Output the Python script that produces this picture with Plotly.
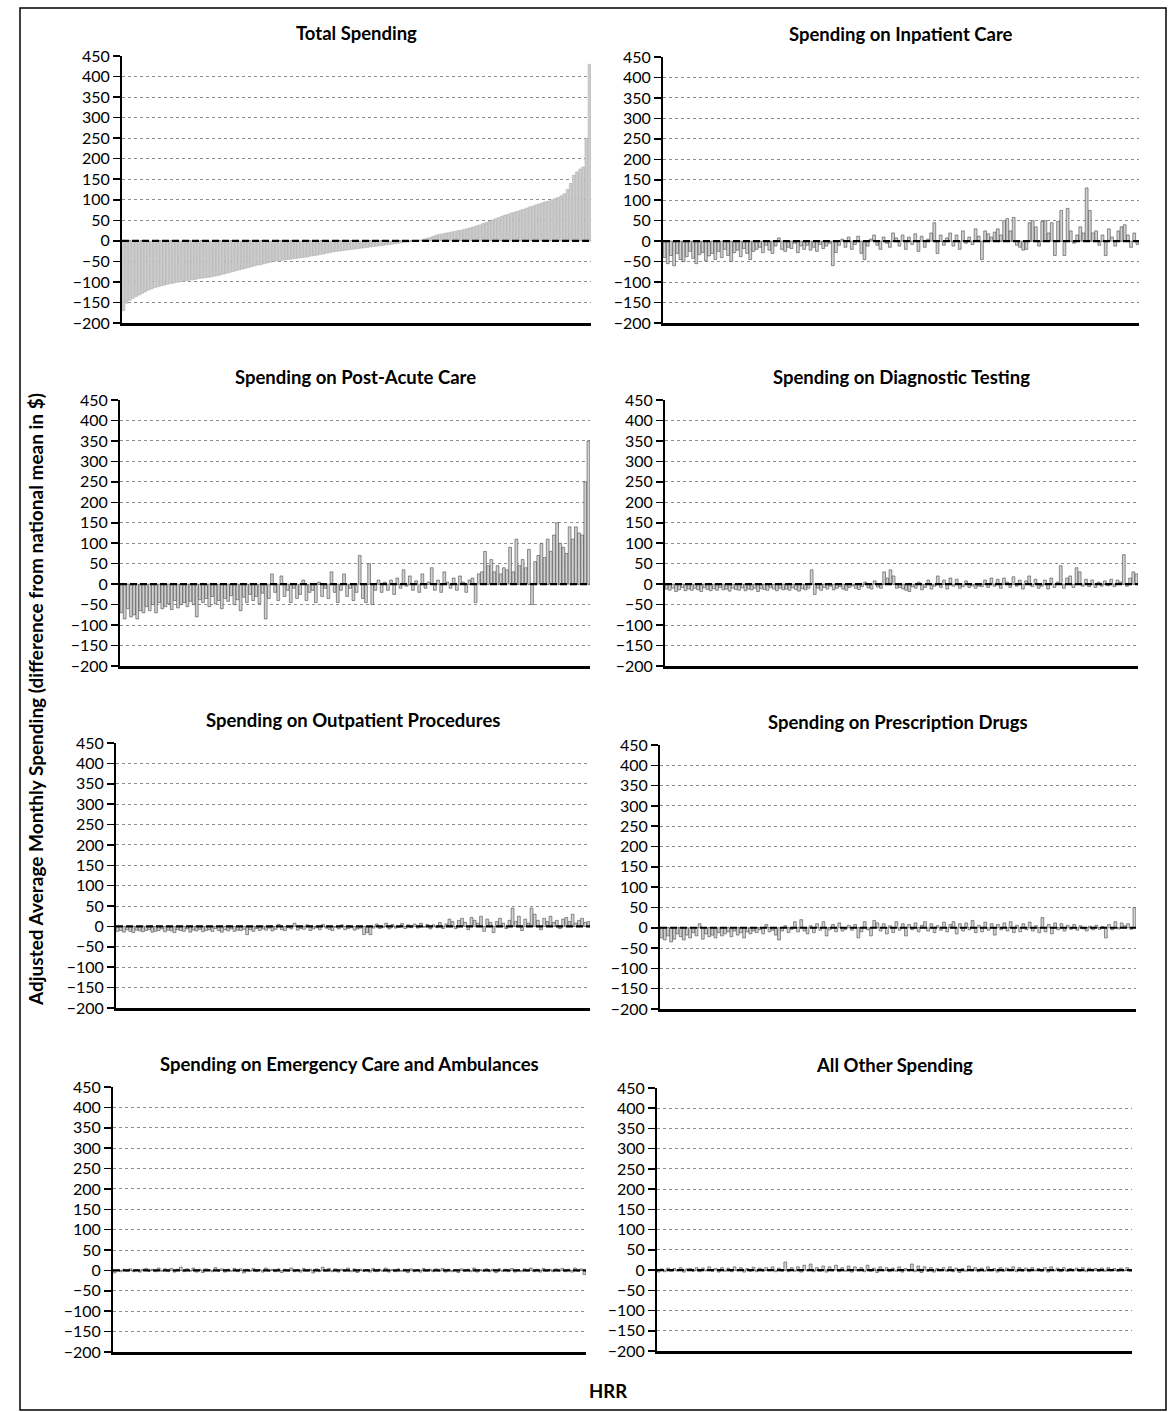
import plotly.graph_objects as go

W, H = 1168, 1412

titles = [
    "Total Spending",
    "Spending on Inpatient Care",
    "Spending on Post-Acute Care",
    "Spending on Diagnostic Testing",
    "Spending on Outpatient Procedures",
    "Spending on Prescription Drugs",
    "Spending on Emergency Care and Ambulances",
    "All Other Spending",
]

y_tick_vals = [-200, -150, -100, -50, 0, 50, 100, 150, 200, 250, 300, 350, 400, 450]

total = [
    -170, -152, -145, -140, -136, -132, -128, -124, -120, -117, -114, -112, -110, -108, -106, -104,
    -103, -101, -100, -99, -97, -96, -95,
    -94, -92, -91, -90, -89, -88, -86, -85,
    -83, -81, -79, -77, -75, -73, -71,
    -69, -67, -65, -63, -61, -59, -58, -56, -54, -52, -50,
    -49, -48, -47, -46, -45, -44, -43, -42, -41, -40, -39, -37,
    -36, -35, -33, -32, -30, -29, -27,
    -26, -25, -24, -23, -22, -21, -20, -19,
    -18, -17, -16, -15, -14, -13, -12,
    -11, -10, -9, -8, -7, -6, -5,
    -4, -3, -2, -1,
    1, 2, 4,
    6, 8, 11, 14,
    16, 17, 19, 20, 22, 23, 25, 26, 28, 30,
    32, 34, 37, 39, 42, 45,
    48, 51, 54, 57, 60,
    63, 65, 68, 70, 72, 75,
    77, 80, 83, 85, 88,
    90, 93, 95, 97, 100,
    103, 106, 110, 115,
    125, 140, 160, 168, 175, 180, 250, 430,
]

inpatient = [
    -40, -55, -35, -60, -30, -45, -50, -38, -25, -42, -55, -33, -28, -48, -36,
    -30, -45, -25, -40, -20, -35, -50, -28, -22, -38, -18, -30, -45, -25, -20,
    -15, -28, -10, -22, -30, -12, 8, -20, -25, -15, -18, -5, -28, -12, -20,
    -10, -22, -15, -25, -8, -18, -12, -5, -60, -28, -10, 5, -15, 10, -20,
    -8, 12, -30, -45, -12, 5, 15, -10, -20, 10, -5, -15, 20, 8, -12,
    15, -20, 10, -8, 18, -25, 12, -15, 5, 20, 45, -30, 15, -10, 8,
    20, -12, 15, -20, 25, -5, 10, -8, 30, 12, -45, 25, 18, 10, 22,
    30, 15, 50, 55, 25, 58, -10, -15, -22, -20, 45, 50, 35, -12, 48,
    50, 20, 45, -35, 48, 75, -35, 80, 25, -5, 15, 35, 20, 130, 75,
    20, 25, -10, 15, -35, 30, 10, -12, 25, 35, 40, 15, -15, 20, -8,
]

post_acute = [
    -70, -85, -60, -80, -75, -85, -65, -70,
    -55, -65, -50, -70, -45, -60, -55, -48, -62, -40, -58, -50, -45, -55, -42, -50, -80, -38,
    -45, -35, -55, -30, -48, -40, -60, -35, -42, -28, -50, -38, -65, -32, -45, -25, -40, -30, -48, -22, -85, -35,
    25, -20, -40, 20, -30, -15, -45, -10, -35, -25, 10, -40, -20, -15, -45, 5, -30, -10, -35, 30,
    -20, -45, -15, 25, -30, -10, -40, -20, 70, -35, -45, 50, -50, -15, 10,
    -20, 5, -15, 10, -25, 15, -10, 35, -5, 20, -15, 8, -20, 25, -10, 5, 40, -15, 10, -20,
    30, 5, -10, 15, -15, 20, 5, -20, 10, 15, -45, 25, 30,
    80, 45, 60, 30, 45, 25, 40, 35, 90, 30, 110, 45,
    60, 40, 85, -50, 55, 70, 100, 65, 110, 80, 120, 150, 100, 90, 75,
    140, 110, 140, 125, 120, 250, 350,
]

diagnostic = [
    -12, -15, -10, -18, -14, -8, -16, -12, -15, -10,
    -14, -18, -9, -13, -16, -11, -15, -8, -14, -12,
    -17, -10, -13, -15, -9, -16, -12, -14, -10, -18,
    -11, -13, -15, -8, -12, -16, -10, -14, -12, -15,
    -9, -13, -17, -11, -14, -10,
    35, -25,
    -10, -15, -8, -12, -5, -14, -10, -6, -12, -15, -8, -4, -10, -13, -6, 5, -9, -12, 8, -7, -10,
    30, 15, 35, 20, -10,
    -8, -12, -15, -18, -6, -10, 5, -14, -8, 10, -12, -5,
    20, -8, 10, -12, 15,
    -5, 12, -10, -6, 8, -8, -4, -10, -5, -6, 10, -8, 15, -5,
    12, -10, 15, 5, -8, 18, -5, 10, -12, 8, 20, -6, 12, -10, -5, 10, -12, 15, -8, 5,
    45, -10,
    15, 20, -8, 40, 30, -5, 12, -6, 10,
    -8, 5, -5, 8, -4, 12, -6, 10, 5, 72, -5, 15, 30, 25,
]

outpatient = [
    -12, -10, -14, -8, -12, -15, -9, -11, -13, -10,
    -8, -14, -12, -10, -6, -13, -9, -11, -15, -8,
    -10, -12, -6, -14, -9, -11, -7, -13, -10, -8,
    -12, -5, -10, -14, -8, -11, -6, -12, -9, -10,
    -7,
    -20,
    -8, -12, -5, -10, -6, -9, -4, -11, -7, 5,
    -8, -10, -3, -6, 8, -9, -5, -7, 4, -10,
    -6, -3, -8, 5, -4, -7, -10, -2, -6, 4,
    -8, -5, -3, -9, -6, -4,
    -20, -15, -20,
    -4, 6, -5, -3, 8, -6, 5, -4, -2, 7, -5, 4, -3, 6, -4, 8, -2, 5, -6, 4, -3, 10, -5, 6,
    18, 12, -5, 15, 20, 10, -8, 22, 15, 8, 25, -12, 18, 10, -15, 12, 20, 8, -5, 15,
    45, 12, 25, -10, 18, 8, 45, 30, 15, -8, 20, 12, 25, 10, 15, -5, 18, 22, 12, 30, 8, 15, 20, 10, 12,
]

prescription = [
    -25, -30, -20, -35, -28, -15, -22, -30, -18, -25, -12, -20, 10, -28, -15,
    -22, -18, -25, -12, -20, -15, -10, -22, -8, -18, -12, -25, -10, -15, -8,
    -12, -5, -15, 8, -10, -6, -18, -30, -8, 5, -12, -4, 15, -10, 20,
    -8, -15, 5, -12, 10, -6, 15, -20, -5, 8, -10, 12, -8, -4, 6,
    -6, 8, -25, -10, 15, -5, -20, 18, 12, -8, 10, -15, 5, -12, 15,
    -6, 10, -20, 8, -5, 12, -10, 6, 15, -8, 10, -12, 5, -6, 14,
    -10, 8, 15, -15, 10, -8, 12, -5, 18, -12, 6, -10, 14, -6, 10,
    -18, 8, -5, 12, -8, 15, -12, 6, -10, 10, -5, 14, -8, 5, -12,
    25, -10, 8, -15, 12, -5, 10, -8, 6, -4, 8, -6, 5, -3, -8,
    4, -5, 6, -4, 3, -25, 8, -5, 15, -3, 12, 5, 10, -4, 50,
]

emergency = [
    -6, 2, -3, 3, -2, 4, -3, 2, -4, 3, 5, -2, 3, -3, 6, -2, 4, -3, 5, -4,
    3, 8, -3, 4, -2, 6, -4, 3, -5, 4, 2, -3, 7, -2, 4, -4, 3, -2, 5, -3,
    4, -6, 3, -2, 5, -3, 2, -4, 6, -2, 3, -3, 4, -5, 3, -2, 6, -3, 2, -4,
    5, -2, 3, -6, 4, -3, 8, -2, 5, -3, 4, -4, 3, -2, 6, -3, 4, -5, 3, -2,
    2, -4, 5, -3, 3, -2, 6, -4, 2, -3, 4, -2, 3, -5, 4, -3, 2, -4, 5, -2,
    3, -3, 4, -2, 5, -4, 3, -3, 2, -5, 4, -2, 3, -3, 6, -4, 2, -2, 4, -3,
    3, -5, 4, -2, 3, -3, 5, -4, 2, -3, 4, -2, 6, -3, 3, -4, 5, -2, 3, -3,
    4, -2, 5, -3, 3, -4, 6, -2, 4, -10,
]

all_other = [
    -5, 3, -4, 5, -3, 4, -2, 6, -5, 3, 4, -3, 6, -4, 5, -2, 8, -3, 4, -5,
    6, -3, 5, -4, 8, -2, 6, -5, 4, -3, 7, -4, 5, -3, 6, -2, 8, -4, 5, -3,
    20, -4, 6, -3, 8, -5, 12, -2, 15, -4, 6, -3, 10, -5, 8, -2, 12, -4, 6, -3,
    10, -5, 8, -2, 6, -4, 12, -3, 5, -6, 8, -2, 6, -4, 5, -3, 8, -5, 4, -2,
    15, -4, 10, -6, 8, -3, 6, -5, 4, -2, 6, -3, 8, -4, 5, -6, 4, -3, 10, -2,
    6, -4, 5, -3, 8, -2, 4, -5, 6, -3, 5, -2, 8, -4, 6, -3, 5, -4, 6, -2,
    4, -3, 6, -5, 8, -2, 5, -4, 6, -3, 4, -2, 5, -3, 6, -4, 5, -2, 4, -3,
    5, -3, 6, -2, 4, -3, 5, -2, 6, -3,
]

series = [total, inpatient, post_acute, diagnostic, outpatient, prescription, emergency, all_other]

# panel plot-area boxes in pixels (left, right, top, bottom)
boxes = [
    (122, 591, 56, 323),
    (663, 1139, 57, 323),
    (120, 590, 400, 666),
    (665, 1138, 400, 666),
    (116, 590, 743, 1008),
    (660, 1136, 745, 1009),
    (113, 586, 1087, 1352),
    (657, 1132, 1088, 1351),
]

FONT = "Lato"
fig = go.Figure()
layout = dict(
    width=W, height=H, autosize=False,
    margin=dict(l=0, r=0, t=0, b=0, pad=0, autoexpand=False),
    paper_bgcolor="white", plot_bgcolor="white",
    showlegend=False, bargap=0.12,
    font=dict(family=FONT, color="black"),
)
shapes = []
annotations = []

for k, (vals, title, box) in enumerate(zip(series, titles, boxes), start=1):
    sfx = "" if k == 1 else str(k)
    l, r, t, b = box
    hrr = list(range(1, len(vals) + 1))
    if k == 1:
        mcol, lcol, lw = "#cdcdcd", "#9c9c9c", 0.4
    else:
        mcol, lcol, lw = "#d0d0d0", "#4a4a4a", 0.6
    fig.add_trace(go.Bar(
        x=hrr, y=vals, xaxis="x" + sfx, yaxis="y" + sfx,
        marker=dict(color=mcol, line=dict(color=lcol, width=lw)),
        hoverinfo="skip",
    ))
    layout["xaxis" + sfx] = dict(
        domain=[l / W, r / W], anchor="y" + sfx, automargin=False,
        range=[0.5, len(vals) + 0.5],
        showticklabels=False, ticks="", showgrid=False, zeroline=False,
        showline=True, linecolor="black", linewidth=2.5,
    )
    layout["yaxis" + sfx] = dict(
        domain=[1 - b / H, 1 - t / H], anchor="x" + sfx, automargin=False,
        range=[-200, 450], tickvals=y_tick_vals,
        ticks="outside", ticklen=7, tickwidth=1.5, tickcolor="black",
        tickfont=dict(family=FONT, size=16, color="black"),
        showline=True, linecolor="black", linewidth=2,
        showgrid=True, gridcolor="#8c8c8c", gridwidth=1, griddash="dot",
        zeroline=False,
    )
    shapes.append(dict(
        type="line", xref="x" + sfx + " domain", yref="y" + sfx,
        x0=0, x1=1, y0=0, y1=0, layer="above",
        line=dict(color="black", width=2.2, dash="7px,3px"),
    ))
    annotations.append(dict(
        text="<b>" + title + "</b>", xref="paper", yref="paper",
        x=(l + r) / 2 / W, y=1 - (t - 23) / H,
        xanchor="center", yanchor="middle", showarrow=False,
        font=dict(family=FONT, size=18.5, color="black"),
    ))

annotations.append(dict(
    text="<b>Adjusted Average Monthly Spending (difference from national mean in $)</b>",
    xref="paper", yref="paper", x=35 / W, y=1 - 700 / H,
    xanchor="center", yanchor="middle", textangle=-90, showarrow=False,
    font=dict(family=FONT, size=19, color="black"),
))
annotations.append(dict(
    text="<b>HRR</b>", xref="paper", yref="paper", x=608 / W, y=1 - 1391 / H,
    xanchor="center", yanchor="middle", showarrow=False,
    font=dict(family=FONT, size=18.5, color="black"),
))
shapes.append(dict(
    type="rect", xref="paper", yref="paper",
    x0=20 / W, x1=1166 / W, y0=1 - 1410 / H, y1=1 - 8 / H,
    line=dict(color="black", width=1.5), fillcolor="rgba(0,0,0,0)",
))

layout["shapes"] = shapes
layout["annotations"] = annotations
fig.update_layout(**layout)

pin_script = (
    "document.documentElement.style.margin='0';"
    "document.documentElement.style.overflow='hidden';"
    "document.body.style.margin='0';"
    "document.body.style.overflow='hidden';"
    "var g=document.getElementById('{plot_id}');"
    "g.style.position='fixed';g.style.top='0px';g.style.left='0px';"
)
fig.write_html(
    "out.html",
    config={"displayModeBar": False, "staticPlot": True},
    post_script=pin_script,
)
